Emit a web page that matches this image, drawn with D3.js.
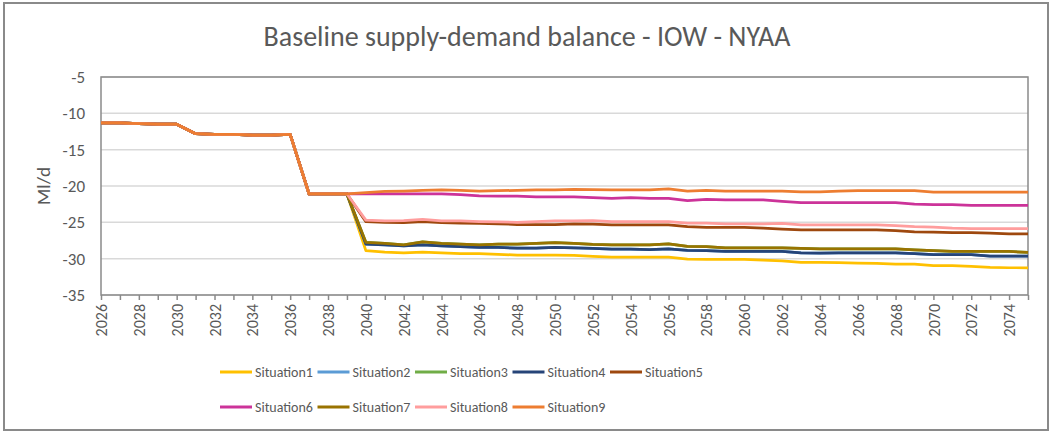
<!DOCTYPE html>
<html>
<head>
<meta charset="utf-8">
<script src="https://cdn.jsdelivr.net/npm/d3@7"></script>
<style>
  html, body { margin: 0; padding: 0; background: #fff; }
  svg { display: block; }
  text { font-family: Carlito, Lato, "Open Sans", sans-serif; fill: #595959; }
</style>
</head>
<body>
<svg id="chart" width="1050" height="432"></svg>
<script>
// Years on the category axis
const years = d3.range(2026, 2076);

// Shared baseline before the situations diverge (2026-2039)
const common = [-11.3, -11.3, -11.4, -11.5, -11.5, -12.8, -12.9, -12.9, -13.0, -13.0, -12.9, -21.1, -21.1, -21.1];

// 2040-2075 values per situation (Ml/d)
const s1 = [-28.9, -29.1, -29.2, -29.1, -29.2, -29.3, -29.3, -29.4, -29.5, -29.5, -29.5,
            -29.55, -29.7, -29.8, -29.8, -29.8, -29.8, -30.05, -30.1, -30.1, -30.1, -30.2, -30.3,
            -30.5, -30.5, -30.55, -30.6, -30.65, -30.75, -30.75, -30.95, -30.95, -31.05, -31.2, -31.25, -31.25];
const s4 = [-28.0, -28.1, -28.25, -28.1, -28.25, -28.35, -28.45, -28.45, -28.55, -28.55, -28.45,
            -28.5, -28.6, -28.7, -28.7, -28.75, -28.65, -28.85, -28.9, -29.0, -29.0, -29.0, -29.0,
            -29.2, -29.25, -29.2, -29.2, -29.2, -29.2, -29.3, -29.45, -29.45, -29.45, -29.65, -29.65, -29.65];
const s7 = [-27.75, -27.9, -28.1, -27.7, -27.9, -28.0, -28.1, -28.0, -28.0, -27.9, -27.8,
            -27.9, -28.05, -28.1, -28.1, -28.1, -27.95, -28.3, -28.35, -28.5, -28.5, -28.5, -28.5,
            -28.6, -28.65, -28.65, -28.65, -28.65, -28.65, -28.8, -28.9, -29.0, -29.0, -29.0, -29.0, -29.15];
const s5 = [-24.9, -25.0, -25.05, -24.9, -25.05, -25.1, -25.15, -25.2, -25.3, -25.3, -25.3,
            -25.2, -25.25, -25.35, -25.35, -25.35, -25.35, -25.6, -25.7, -25.7, -25.7, -25.8, -25.95,
            -26.05, -26.05, -26.05, -26.05, -26.05, -26.15, -26.3, -26.35, -26.4, -26.4, -26.5, -26.6, -26.6];
const s8 = [-24.7, -24.8, -24.75, -24.6, -24.8, -24.8, -24.9, -24.95, -25.0, -24.9, -24.8,
            -24.8, -24.75, -24.9, -24.9, -24.9, -24.9, -25.1, -25.1, -25.2, -25.2, -25.2, -25.15,
            -25.35, -25.35, -25.35, -25.35, -25.35, -25.45, -25.6, -25.65, -25.8, -25.85, -25.85, -25.85, -25.85];
const s6 = [-21.1, -21.1, -21.1, -21.1, -21.1, -21.2, -21.35, -21.4, -21.4, -21.5, -21.5,
            -21.5, -21.6, -21.7, -21.6, -21.7, -21.7, -22.0, -21.85, -21.9, -21.9, -21.9, -22.1,
            -22.3, -22.3, -22.3, -22.3, -22.3, -22.3, -22.5, -22.55, -22.55, -22.65, -22.65, -22.65, -22.65];
const s9 = [-20.9, -20.75, -20.7, -20.6, -20.55, -20.6, -20.7, -20.65, -20.6, -20.55, -20.55,
            -20.45, -20.5, -20.55, -20.55, -20.55, -20.4, -20.7, -20.6, -20.7, -20.7, -20.7, -20.7,
            -20.8, -20.8, -20.7, -20.65, -20.65, -20.65, -20.65, -20.85, -20.85, -20.85, -20.85, -20.85, -20.85];
// Situations 2 and 3 track situations 4 and 7 and sit beneath them
const s2 = s4.slice();
const s3 = s7.slice();

const seriesNames = ["Situation1", "Situation2", "Situation3", "Situation4", "Situation5",
                     "Situation6", "Situation7", "Situation8", "Situation9"];
const seriesColors = ["#FFC000", "#5B9BD5", "#70AD47", "#264478", "#9E480E",
                      "#CC3399", "#997300", "#FF9D9D", "#ED7D31"];
const seriesTail = [s1, s2, s3, s4, s5, s6, s7, s8, s9];

const yTicks = [-35, -30, -25, -20, -15, -10, -5];

const series = seriesNames.map((name, i) => ({
  name,
  color: seriesColors[i],
  values: common.concat(seriesTail[i]).map((v, j) => ({ year: years[j], value: v }))
}));

const svg = d3.select("#chart");

// Outer chart frame
svg.append("rect")
  .attr("x", 4).attr("y", 3).attr("width", 1044).attr("height", 427)
  .attr("fill", "#fff").attr("stroke", "#8a8a8a").attr("stroke-width", 2);

const plot = { left: 101, right: 1028, top: 77, bottom: 295 };

const x = d3.scalePoint().domain(years).range([plot.left, plot.right]).padding(0);
const y = d3.scaleLinear().domain([-35, -5]).range([plot.bottom, plot.top]);

// Horizontal gridlines
svg.append("g")
  .selectAll("line")
  .data(yTicks)
  .join("line")
  .attr("x1", plot.left).attr("x2", plot.right)
  .attr("y1", d => y(d)).attr("y2", d => y(d))
  .attr("stroke", "#d9d9d9").attr("stroke-width", 1.5);

// Y axis labels (plain hyphen for negatives)
const yAxis = svg.append("g")
  .attr("transform", `translate(${plot.left},0)`)
  .call(d3.axisLeft(y).tickValues(yTicks).tickSize(0).tickPadding(16).tickFormat(d => String(d)));
yAxis.select(".domain").remove();
yAxis.selectAll("text").style("font-size", "17px").attr("fill", "#595959");

// X axis: a tick for every year, a label on every second year
const xAxis = svg.append("g")
  .attr("transform", `translate(0,${plot.bottom})`)
  .call(d3.axisBottom(x).tickSize(5).tickFormat(d => (d - 2026) % 2 === 0 ? d : ""));
xAxis.select(".domain").remove();
xAxis.selectAll(".tick line").attr("stroke", "#8a8a8a").attr("stroke-width", 1.5);
xAxis.selectAll("text")
  .style("font-size", "16px")
  .attr("fill", "#595959")
  .attr("transform", "rotate(-90)")
  .attr("text-anchor", "end")
  .attr("x", -9).attr("y", 0).attr("dy", "0.35em");

// Plot area frame
svg.append("rect")
  .attr("x", plot.left).attr("y", plot.top)
  .attr("width", plot.right - plot.left).attr("height", plot.bottom - plot.top)
  .attr("fill", "none").attr("stroke", "#8a8a8a").attr("stroke-width", 1.5);

// Series lines
const line = d3.line().x(d => x(d.year)).y(d => y(d.value));
svg.append("g")
  .selectAll("path")
  .data(series)
  .join("path")
  .attr("d", d => line(d.values))
  .attr("fill", "none")
  .attr("stroke", d => d.color)
  .attr("stroke-width", 2.75)
  .attr("stroke-linejoin", "round");

// Title
svg.append("text")
  .attr("x", 527).attr("y", 46)
  .attr("text-anchor", "middle")
  .style("font-size", "28px")
  .text("Baseline supply-demand balance - IOW - NYAA");

// Y axis title
svg.append("text")
  .attr("transform", `translate(50,${(plot.top + plot.bottom) / 2}) rotate(-90)`)
  .attr("text-anchor", "middle")
  .style("font-size", "19px")
  .text("Ml/d");

// Legend: five items per row
const legend = svg.append("g");
const item = legend.selectAll("g")
  .data(series)
  .join("g")
  .attr("transform", (d, i) => `translate(${220 + (i % 5) * 97.5},${i < 5 ? 372 : 407})`);
item.append("line")
  .attr("x1", 0).attr("x2", 32).attr("y1", 0).attr("y2", 0)
  .attr("stroke", d => d.color).attr("stroke-width", 3);
item.append("text")
  .attr("x", 35).attr("y", 0).attr("dy", "0.35em")
  .style("font-size", "14px")
  .text(d => d.name);
</script>
</body>
</html>
